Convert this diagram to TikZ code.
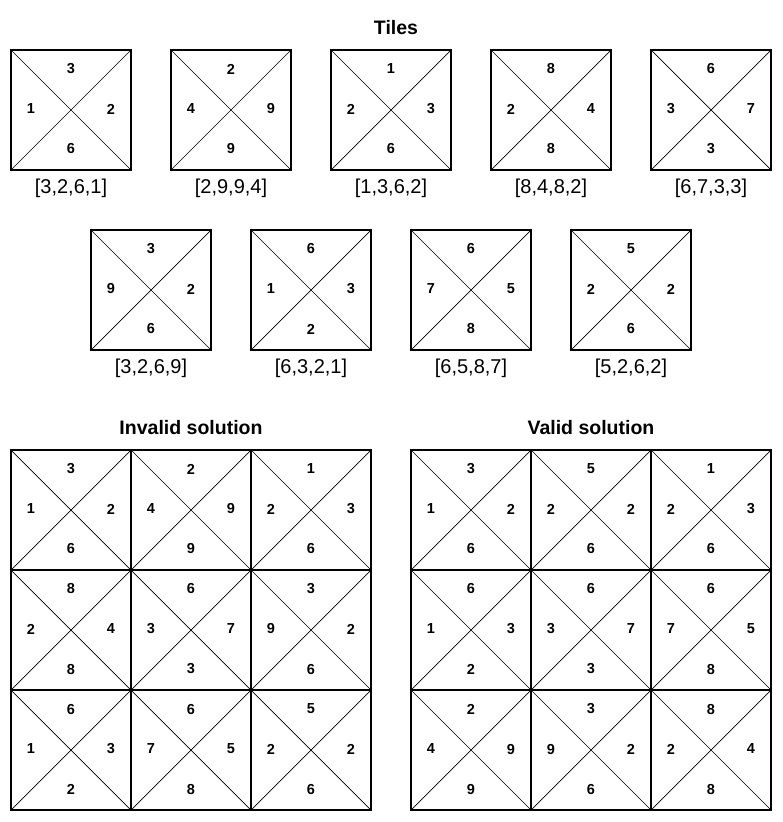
\documentclass[tikz,border=0pt]{standalone}
\usepackage{fontspec}
\setmainfont{Liberation Sans}
\usetikzlibrary{positioning}

% one tile: name, left x, top y, top, right, bottom, left
\newcommand{\drawtile}[7]{%
  \node[tilebox] (#1) at ({#2+60},{#3+60}) {};
  \draw[diag] (#1.north west) -- (#1.south east);
  \draw[diag] (#1.north east) -- (#1.south west);
  \node[num] (#1-t) at ({#2+60},{#3+19}) {#4};
  \node[num] (#1-r) at ({#2+100},{#3+59}) {#5};
  \node[num] (#1-b) at ({#2+60},{#3+99}) {#6};
  \node[num] (#1-l) at ({#2+20},{#3+59}) {#7};
}

\begin{document}
\begin{tikzpicture}[
        x=1pt, y=-1pt,
        tilebox/.style={draw, line width=2pt, minimum size=120pt, inner sep=0pt, outer sep=0pt},
        diag/.style={line width=0.7pt},
        num/.style={font=\fontsize{14.5}{16}\selectfont\bfseries, inner sep=0pt},
        caption/.style={font=\fontsize{20}{22}\selectfont, inner sep=0pt},
        heading/.style={font=\fontsize{19.5}{22}\selectfont\bfseries, inner sep=0pt}
    ]
    \useasboundingbox (0,0) rectangle (783,822);

    % Titles
    \node[heading] (tiles) at (396,28) {Tiles};
    \node[heading] (invalid) at (191,428) {Invalid solution};
    \node[heading] (valid) at (591,428) {Valid solution};

    % Tiles, first row
    \foreach \n/\x/\t/\r/\b/\l in {a/11/3/2/6/1, b/171/2/9/9/4, c/331/1/3/6/2, d/491/8/4/8/2, e/651/6/7/3/3} {
        \drawtile{\n}{\x}{50}{\t}{\r}{\b}{\l}
        \node[caption] (\n-cap) at ({\x+60},188) {[\t,\r,\b,\l]};
    }

    % Tiles, second row
    \foreach \n/\x/\t/\r/\b/\l in {f/91/3/2/6/9, g/251/6/3/2/1, h/411/6/5/8/7, i/571/5/2/6/2} {
        \drawtile{\n}{\x}{230}{\t}{\r}{\b}{\l}
        \node[caption] (\n-cap) at ({\x+60},368) {[\t,\r,\b,\l]};
    }

    % Invalid solution
    \foreach \n/\c/\w/\t/\r/\b/\l in {
        p1/0/0/3/2/6/1, p2/1/0/2/9/9/4, p3/2/0/1/3/6/2,
        p4/0/1/8/4/8/2, p5/1/1/6/7/3/3, p6/2/1/3/2/6/9,
        p7/0/2/6/3/2/1, p8/1/2/6/5/8/7, p9/2/2/5/2/6/2} {
        \drawtile{\n}{11+120*\c}{450+120*\w}{\t}{\r}{\b}{\l}
    }

    % Valid solution
    \foreach \n/\c/\w/\t/\r/\b/\l in {
        q1/0/0/3/2/6/1, q2/1/0/5/2/6/2, q3/2/0/1/3/6/2,
        q4/0/1/6/3/2/1, q5/1/1/6/7/3/3, q6/2/1/6/5/8/7,
        q7/0/2/2/9/9/4, q8/1/2/3/2/6/9, q9/2/2/8/4/8/2} {
        \drawtile{\n}{411+120*\c}{450+120*\w}{\t}{\r}{\b}{\l}
    }

\end{tikzpicture}
\end{document}
